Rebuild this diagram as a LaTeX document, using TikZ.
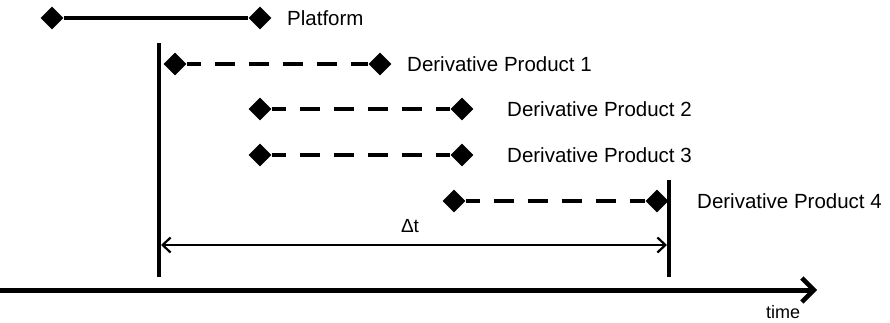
\documentclass[tikz,border=0pt]{standalone}
\usepackage{fontspec}
\setmainfont{Liberation Sans}
\usetikzlibrary{shapes.geometric,arrows.meta,positioning}

\begin{document}
\begin{tikzpicture}[x=1pt,y=-1pt,
  tip/.style={diamond,fill=black,inner sep=0pt,minimum size=23pt},
  solidbar/.style={line width=4pt},
  dashbar/.style={line width=4.2pt,dash pattern=on 20pt off 14pt,dash phase=6pt},
  label/.style={anchor=west,font=\fontsize{20.5}{24}\selectfont,inner sep=0pt},
  limit/.style={line width=3.4pt},
  span/.style={{Straight Barb[length=8pt,width=15pt]}-{Straight Barb[length=8pt,width=15pt]},line width=2.2pt},
  axis/.style={-{Straight Barb[length=12pt,width=24pt,line width=4.5pt]},line width=5pt}
]
\useasboundingbox (0,0) rectangle (890,322);

% ===== PLATFORM =====
\node[tip] (p0) at (52,18) {};
\node[tip] (p1) at (260,18) {};
\draw[solidbar] (p0) -- (p1);
\node[label] (plat) at (287,18) {Platform};

% ===== DERIVATIVE PRODUCTS =====
\foreach \i/\xa/\xb/\y/\xt in {1/175/380/64/407, 2/260/462/109/507, 3/260/462/155/507, 4/454/657/201/697} {
  \node[tip] (d\i a) at (\xa,\y) {};
  \node[tip] (d\i b) at (\xb,\y) {};
  \draw[dashbar] (d\i a) -- (d\i b);
  \node[label] (dp\i) at (\xt,\y) {Derivative Product \i};
}

% ===== DELTA T =====
\coordinate (l0) at (159,43);
\coordinate (l1) at (159,277);
\coordinate (r0) at (669,180);
\coordinate (r1) at (669,277);
\draw[limit] (l0) -- (l1);
\draw[limit] (r0) -- (r1);
\coordinate (s0) at (161,245);
\coordinate (s1) at (667,245);
\draw[span] (s0) -- (s1);
\node[font=\fontsize{19}{22}\selectfont] (dt) at (410,226) {Δt};

% ===== TIME AXIS =====
\coordinate (t0) at (0,290);
\coordinate (t1) at (817,290);
\draw[axis] (t0) -- (t1);
\node[font=\fontsize{18}{21}\selectfont] (time) at (783,312) {time};

\end{tikzpicture}
\end{document}
